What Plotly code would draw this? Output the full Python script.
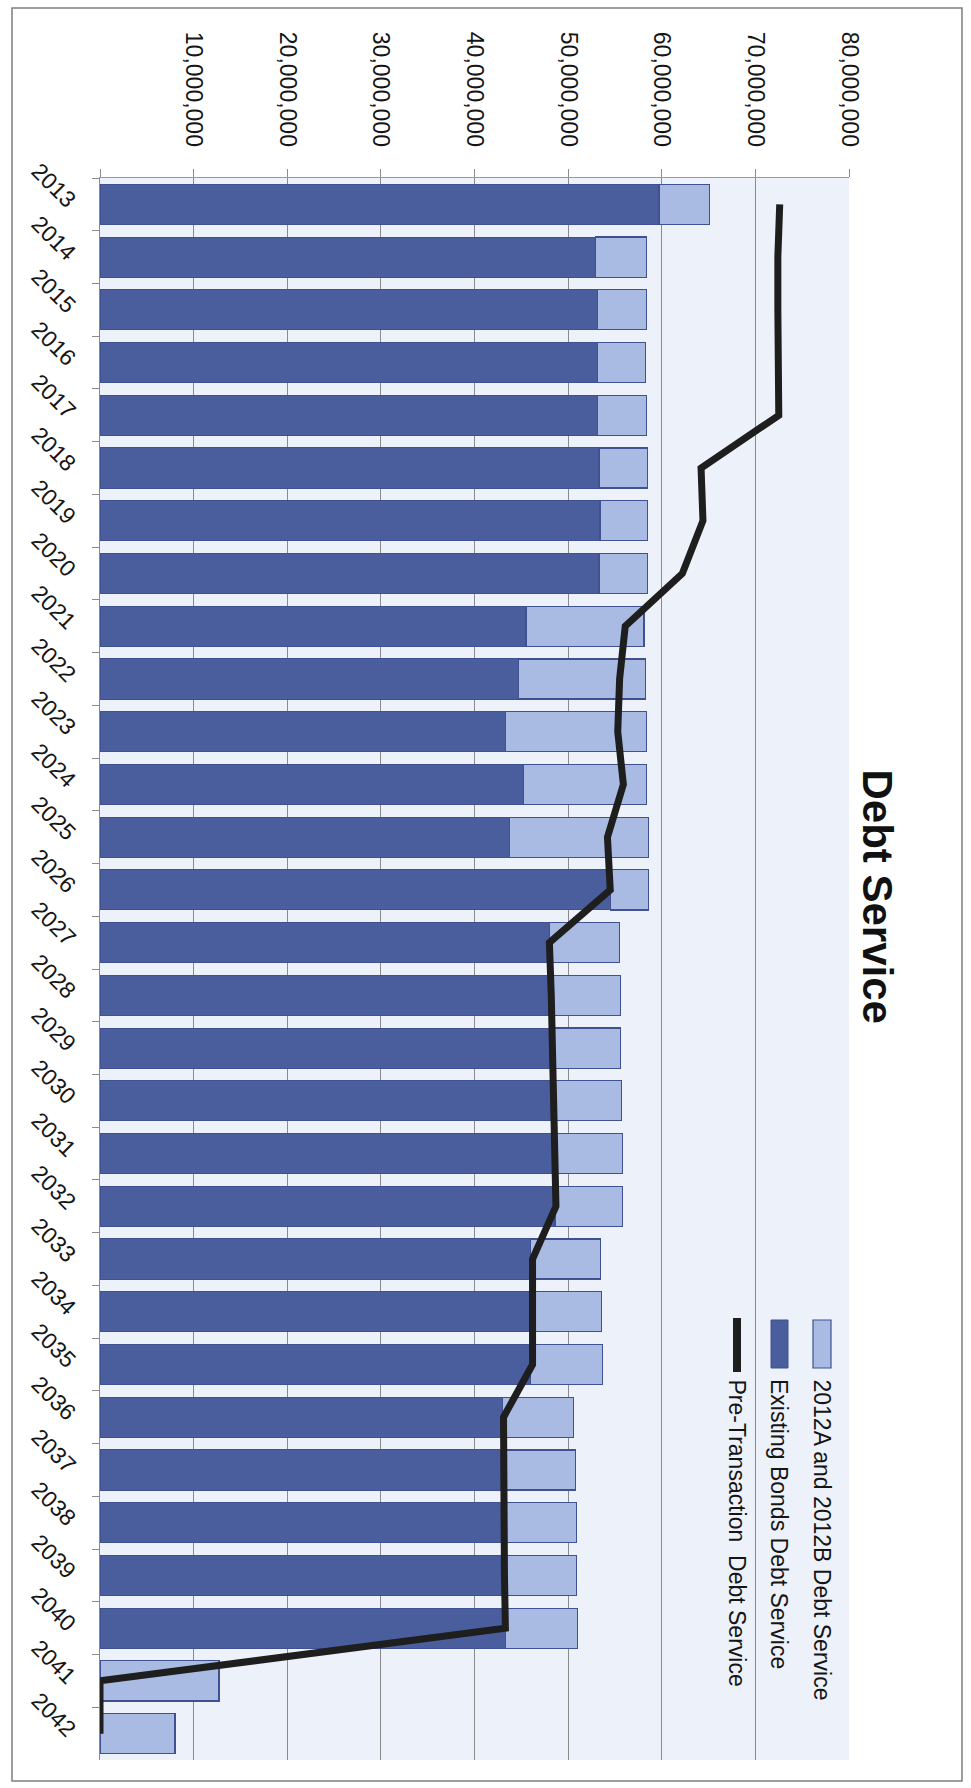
import plotly.graph_objects as go

# Fiscal years on the category axis
years = [str(y) for y in range(2013, 2043)]

# Existing bonds debt service (dollars)
existing_bonds = [
    59_700_000, 52_900_000, 53_100_000, 53_100_000, 53_100_000,
    53_300_000, 53_400_000, 53_300_000, 45_500_000, 44_700_000,
    43_300_000, 45_200_000, 43_700_000, 54_500_000, 48_000_000,
    48_200_000, 48_200_000, 48_400_000, 48_500_000, 48_600_000,
    46_000_000, 45_900_000, 46_000_000, 43_000_000, 43_000_000,
    43_100_000, 43_100_000, 43_300_000, 0, 0,
]

# 2012A and 2012B debt service, stacked on top of existing bonds (dollars)
series_2012ab = [
    5_400_000, 5_500_000, 5_300_000, 5_200_000, 5_300_000,
    5_200_000, 5_100_000, 5_200_000, 12_600_000, 13_600_000,
    15_100_000, 13_200_000, 14_900_000, 4_100_000, 7_500_000,
    7_400_000, 7_400_000, 7_300_000, 7_300_000, 7_200_000,
    7_500_000, 7_700_000, 7_700_000, 7_600_000, 7_800_000,
    7_800_000, 7_800_000, 7_700_000, 12_700_000, 8_000_000,
]

# Pre-transaction debt service (dollars)
pre_transaction = [
    72_600_000, 72_400_000, 72_400_000, 72_400_000, 72_500_000,
    64_200_000, 64_400_000, 62_200_000, 56_100_000, 55_500_000,
    55_300_000, 55_900_000, 54_200_000, 54_500_000, 48_000_000,
    48_200_000, 48_300_000, 48_400_000, 48_500_000, 48_700_000,
    46_200_000, 46_200_000, 46_200_000, 43_100_000, 43_100_000,
    43_200_000, 43_200_000, 43_300_000, 0, 0,
]

# Value axis ticks
value_ticks = [0, 10_000_000, 20_000_000, 30_000_000, 40_000_000,
               50_000_000, 60_000_000, 70_000_000, 80_000_000]
value_tick_labels = ["", "10,000,000", "20,000,000", "30,000,000", "40,000,000",
                     "50,000,000", "60,000,000", "70,000,000", "80,000,000"]

legend_labels = ["2012A and 2012B Debt Service",
                 "Existing Bonds Debt Service",
                 "Pre-Transaction  Debt Service"]

W, H = 971, 1788
L, R, T, B = 100, 122, 178, 28

DARK = "#4a5d9c"
LIGHT = "#a9bbe2"
EDGE = "#3f5190"
LINE = "#1e1e1e"
FONT = "Liberation Sans, Arial, sans-serif"


def px(xpix):
    return (xpix - L) / (W - L - R)


def py(ypix):
    return 1 - (ypix - T) / (H - T - B)


fig = go.Figure()

fig.add_trace(go.Bar(
    x=existing_bonds, y=years, orientation="h", name=legend_labels[1],
    marker=dict(color=DARK, line=dict(color=EDGE, width=1)),
    showlegend=False,
))
fig.add_trace(go.Bar(
    x=series_2012ab, y=years, orientation="h", name=legend_labels[0],
    marker=dict(color=LIGHT, line=dict(color=EDGE, width=1.2)),
    showlegend=False,
))
fig.add_trace(go.Scatter(
    x=pre_transaction, y=years, mode="lines", name=legend_labels[2],
    line=dict(color=LINE, width=7),
    showlegend=False,
))

shapes = [
    # outer frame
    dict(type="rect", xref="paper", yref="paper",
         x0=px(12), x1=px(962), y0=py(8), y1=py(1781),
         line=dict(color="#7d7d7d", width=1.5), fillcolor="rgba(0,0,0,0)",
         layer="below"),
    # legend swatches
    dict(type="rect", xref="paper", yref="paper",
         x0=px(813), x1=px(831), y0=py(1368), y1=py(1320),
         fillcolor=LIGHT, line=dict(color=EDGE, width=1.2)),
    dict(type="rect", xref="paper", yref="paper",
         x0=px(771), x1=px(788), y0=py(1368), y1=py(1320),
         fillcolor=DARK, line=dict(color=EDGE, width=1)),
    dict(type="line", xref="paper", yref="paper",
         x0=px(737), x1=px(737), y0=py(1372), y1=py(1318),
         line=dict(color=LINE, width=8)),
]

annotations = [
    dict(text="<b>Debt Service</b>", xref="paper", yref="paper",
         x=px(903), y=py(896), textangle=90, showarrow=False,
         font=dict(family=FONT, size=42, color="#111111")),
]
for label, xc in zip(legend_labels, [822, 779, 737]):
    annotations.append(dict(
        text=label, xref="paper", yref="paper",
        x=px(xc), y=py(1377), xanchor="center", yanchor="top",
        textangle=90, showarrow=False,
        font=dict(family=FONT, size=23, color="#151515"),
    ))

fig.update_layout(
    width=W, height=H,
    margin=dict(l=L, r=R, t=T, b=B, pad=0),
    paper_bgcolor="white",
    plot_bgcolor="#edf1fa",
    barmode="stack",
    bargap=0.24,
    shapes=shapes,
    annotations=annotations,
    font=dict(family=FONT, color="#151515"),
    xaxis=dict(
        side="top", range=[0, 80_000_000],
        tickvals=value_ticks, ticktext=value_tick_labels,
        tickangle=90, tickfont=dict(size=23, family=FONT, color="#151515"),
        ticks="outside", ticklen=8, tickcolor="#8a8a8a",
        ticklabelstandoff=14,
        showgrid=True, gridcolor="#8a8a8a", gridwidth=1,
        showline=True, linecolor="#9a9a9a", linewidth=1,
        zeroline=False, fixedrange=True,
    ),
    yaxis=dict(
        type="category", categoryorder="array", categoryarray=years,
        range=[len(years) - 0.5, -0.5],
        tickangle=45, tickfont=dict(size=23, family=FONT, color="#151515"),
        ticks="outside", tickson="boundaries", ticklen=7, tickcolor="#8a8a8a",
        ticklabelstandoff=20,
        showgrid=False, showline=True, linecolor="#8a8a8a", linewidth=1,
        fixedrange=True,
    ),
)

fig.write_html("out.html")
